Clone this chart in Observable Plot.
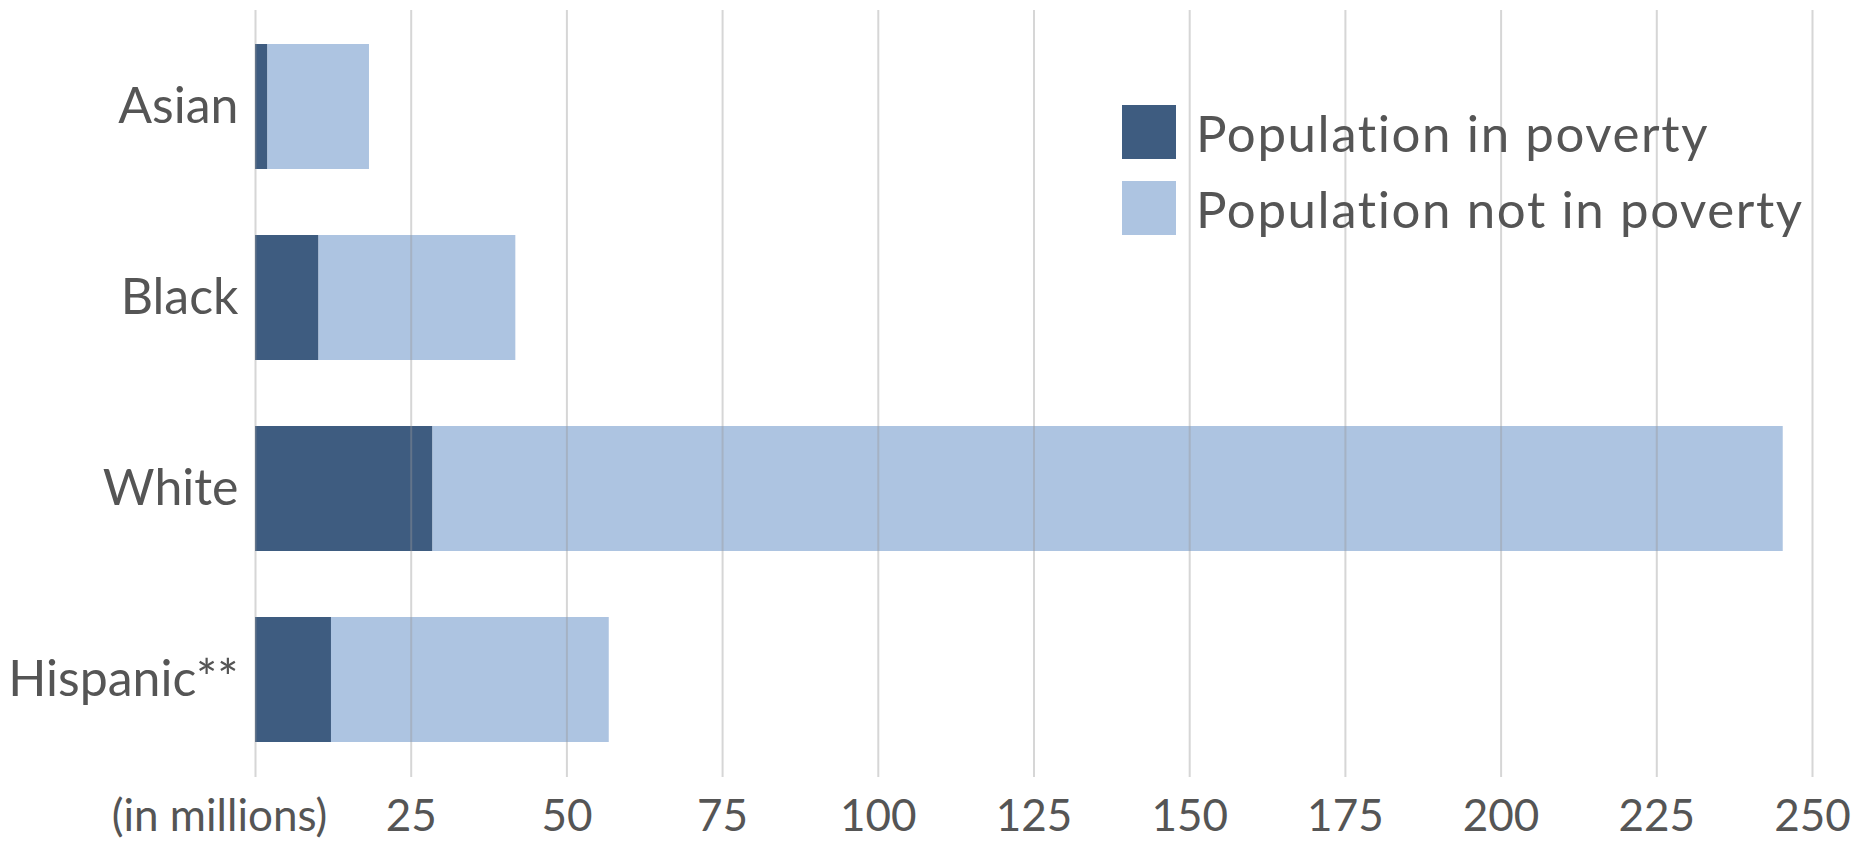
<!DOCTYPE html>
<html><head><meta charset="utf-8">
<script src="https://cdn.jsdelivr.net/npm/d3@7"></script>
<script src="https://cdn.jsdelivr.net/npm/@observablehq/plot@0.6"></script>
<style>
body{margin:0;background:#fff;font-family:Lato,sans-serif;}
#wrap{position:relative;width:1866px;height:844px;overflow:hidden;}
.legend{position:absolute;left:1122px;top:105px;}
.legend .row{display:flex;align-items:center;height:54px;margin-bottom:22px;}
.legend .sw{width:54px;height:54px;margin-right:20px;}
.legend .lab{font-size:51px;letter-spacing:1.6px;color:#555;font-weight:400;white-space:nowrap;}
</style></head><body><div id="wrap"></div>
<script>
const groups = ["Asian", "Black", "White", "Hispanic**"];
const inPoverty = [2.0, 10.2, 28.5, 12.2];
const notInPoverty = [16.3, 31.6, 216.8, 44.6];
const seriesNames = ["Population in poverty", "Population not in poverty"];
const seriesColors = ["#3e5c80", "#adc4e1"];
const xTicks = [25, 50, 75, 100, 125, 150, 175, 200, 225, 250];
const gridTicks = [0, ...xTicks];
const unitLabel = "(in millions)";

const data = [];
groups.forEach((g, i) => {
  data.push({group: g, series: seriesNames[0], value: inPoverty[i]});
  data.push({group: g, series: seriesNames[1], value: notInPoverty[i]});
});

const chart = Plot.plot({
  width: 1866,
  height: 844,
  marginLeft: 255,
  marginRight: 54,
  marginTop: 10,
  marginBottom: 67,
  style: {fontFamily: "Lato, sans-serif", background: "transparent"},
  x: {domain: [0, 250], axis: null, label: null},
  y: {domain: groups, paddingInner: 0.345, paddingOuter: 0.18, axis: null, label: null},
  color: {domain: seriesNames, range: seriesColors},
  marks: [
    Plot.barX(data, {x: "value", y: "group", fill: "series"}),
    Plot.gridX(gridTicks, {stroke: "#999", strokeOpacity: 0.4, strokeWidth: 2}),
    Plot.axisX({ticks: xTicks, tickSize: 0, tickPadding: 22, fontSize: 44, color: "#555", label: null}),
    Plot.axisX({ticks: [0], tickSize: 0, tickPadding: 22, fontSize: 44, color: "#555", label: null, tickFormat: () => unitLabel, dx: -36}),
    Plot.axisY({tickSize: 0, tickPadding: 17, fontSize: 50, color: "#555", label: null})
  ]
});
const wrap = document.getElementById("wrap");
wrap.appendChild(chart);
const leg = document.createElement("div");
leg.className = "legend";
seriesNames.forEach((n, i) => {
  const r = document.createElement("div"); r.className = "row";
  const s = document.createElement("div"); s.className = "sw"; s.style.background = seriesColors[i];
  const t = document.createElement("div"); t.className = "lab"; t.textContent = n;
  r.appendChild(s); r.appendChild(t); leg.appendChild(r);
});
wrap.appendChild(leg);
</script></body></html>
